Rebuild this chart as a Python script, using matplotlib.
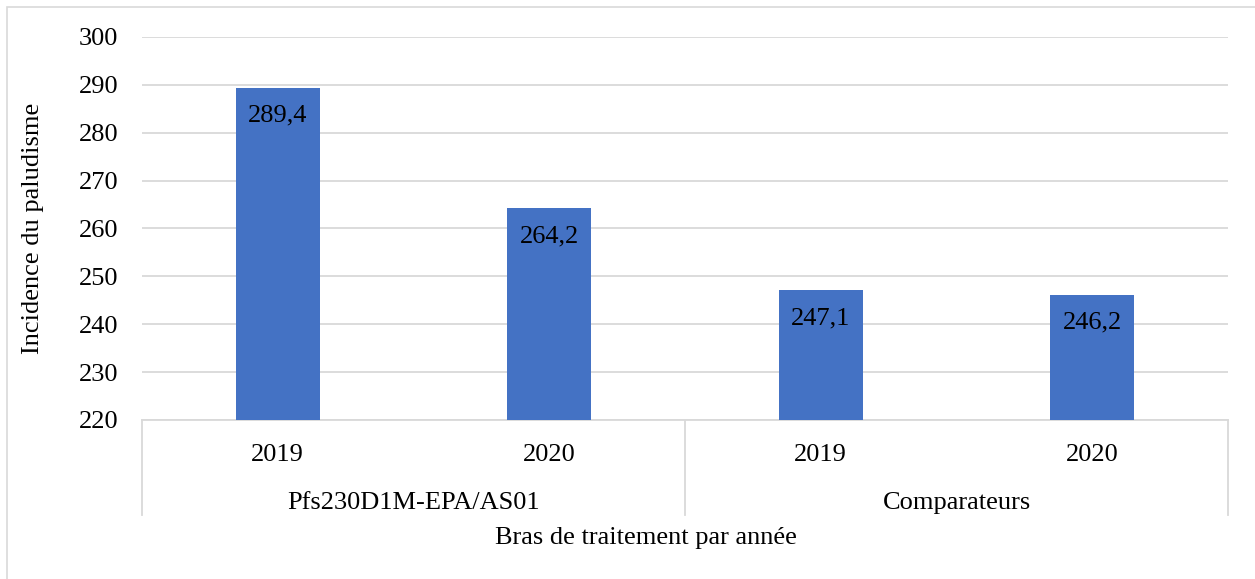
import matplotlib
matplotlib.use("Agg")
import matplotlib.pyplot as plt
from matplotlib.lines import Line2D
from matplotlib.patches import Rectangle

# ---- data ----
groups = ["Pfs230D1M-EPA/AS01", "Comparateurs"]
years = ["2019", "2020", "2019", "2020"]
values = [289.4, 264.2, 247.1, 246.2]
value_labels = ["289,4", "264,2", "247,1", "246,2"]
yticks = [220, 230, 240, 250, 260, 270, 280, 290, 300]

plt.rcParams['font.family'] = ['Liberation Serif', 'DejaVu Serif']

W, H = 1255, 579
fig = plt.figure(figsize=(W / 100, H / 100), dpi=100)
fig.patch.set_facecolor("white")

# outer chart border (top and left visible)
fig.add_artist(Rectangle((7 / W, -0.05), 1.2, 1 - 7 / H + 0.05,
                         transform=fig.transFigure, fill=False,
                         edgecolor="#D9D9D9", linewidth=1.2))

left, right, top, bottom = 142, 1228, 37, 420
ax = fig.add_axes([left / W, 1 - bottom / H, (right - left) / W, (bottom - top) / H])

x = list(range(len(values)))
ax.bar(x, values, width=0.31, color="#4472C4", zorder=3)
ax.set_xlim(-0.5, len(values) - 0.5)
ax.set_ylim(220, 300)
ax.set_yticks(yticks)
ax.set_yticklabels([str(t) for t in yticks], fontsize=19)
ax.tick_params(axis="y", length=0, pad=17)
ax.set_xticks([])
ax.yaxis.grid(True, color="#D9D9D9", linewidth=1.3, zorder=0)
for s in ["left", "right", "top"]:
    ax.spines[s].set_visible(False)
ax.spines["bottom"].set_color("#D9D9D9")
ax.spines["bottom"].set_linewidth(1.3)

# data labels (inside end)
for xi, v, lab in zip(x, values, value_labels):
    ax.annotate(lab, (xi, v), xytext=(0, -28), textcoords="offset pixels",
                ha="center", va="center", fontsize=19, color="black", zorder=4)

# multi-level category axis
trans = ax.get_xaxis_transform()
ah = bottom - top
for xi, yr in zip(x, years):
    ax.text(xi, -(455 - bottom) / ah, yr, transform=trans, ha="center",
            va="center", fontsize=19, clip_on=False)
n_per = len(values) // len(groups)
for gi, g in enumerate(groups):
    cx = gi * n_per + (n_per - 1) / 2
    ax.text(cx, -(503 - bottom) / ah, g, transform=trans, ha="center",
            va="center", fontsize=19, clip_on=False)
for b in [-0.5 + k * n_per for k in range(len(groups) + 1)]:
    ax.add_line(Line2D([b, b], [0, -(515 - bottom) / ah], transform=trans,
                       color="#D9D9D9", linewidth=1.3, clip_on=False))

fig.text(646 / W, 1 - 538 / H, "Bras de traitement par année",
         ha="center", va="center", fontsize=19)
fig.text(33 / W, 1 - 228 / H, "Incidence du paludisme", rotation=90,
         ha="center", va="center", fontsize=19)

fig.savefig("out.png", dpi=100)
